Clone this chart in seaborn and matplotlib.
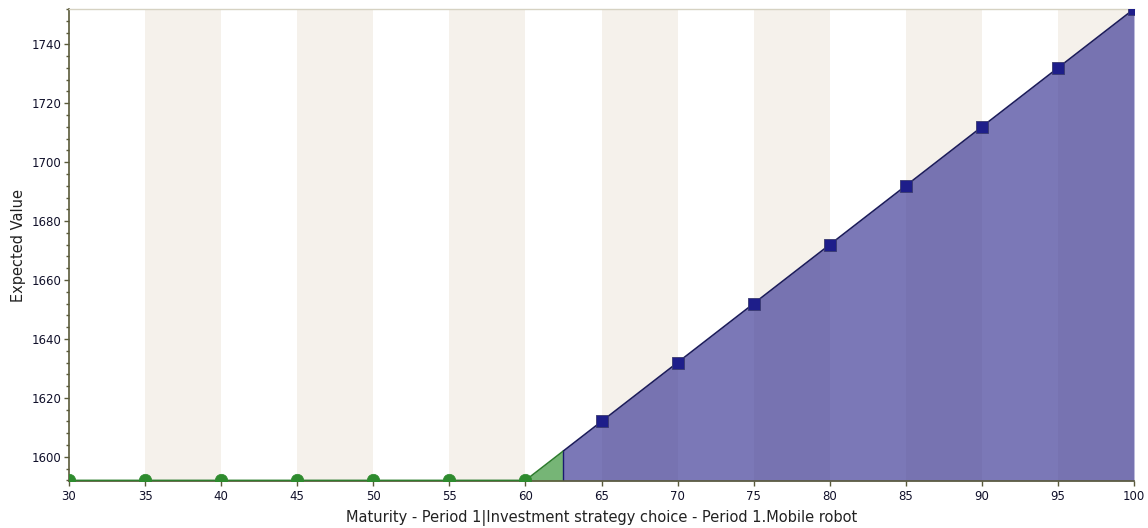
import matplotlib
matplotlib.use("Agg")
import matplotlib.pyplot as plt
import seaborn as sns
import pandas as pd
from matplotlib.ticker import MultipleLocator

# ---- data ----
green_x = [30, 35, 40, 45, 50, 55, 60]
green_y = [1592, 1592, 1592, 1592, 1592, 1592, 1592]
switch_x = 62.5
switch_y = 1602
blue_x = [65, 70, 75, 80, 85, 90, 95, 100]
blue_y = [1612, 1632, 1652, 1672, 1692, 1712, 1732, 1752]
x_ticks = [30, 35, 40, 45, 50, 55, 60, 65, 70, 75, 80, 85, 90, 95, 100]
y_ticks = [1600, 1620, 1640, 1660, 1680, 1700, 1720, 1740]
x_label = "Maturity - Period 1|Investment strategy choice - Period 1.Mobile robot"
y_label = "Expected Value"

sns.set_theme(style="white")
plt.rcParams['font.family'] = ['DejaVu Sans']

green_df = pd.DataFrame({"x": green_x, "y": green_y})
blue_df = pd.DataFrame({"x": blue_x, "y": blue_y})
green_line = pd.DataFrame({"x": green_x + [switch_x], "y": green_y + [switch_y]})
blue_line = pd.DataFrame({"x": [switch_x] + blue_x, "y": [switch_y] + blue_y})

fig = plt.figure(figsize=(11.48, 5.28), dpi=100)
ax = fig.add_axes([69/1148, 1 - 481/528, (1134-69)/1148, (481-9)/528])

ymin, ymax = 1591.8, 1752
ax.set_xlim(30, 100)
ax.set_ylim(ymin, ymax)

# alternating background bands
for i in range(1, len(x_ticks) - 1, 2):
    ax.axvspan(x_ticks[i], x_ticks[i + 1], color="#F5F1EB", lw=0, zorder=0)

# fills
ax.fill_between(green_line["x"], ymin, green_line["y"], color="#5EA85E", alpha=0.85, lw=0, zorder=1)
ax.fill_between(blue_line["x"], ymin, blue_line["y"], color="#3C3896", alpha=0.68, lw=0, zorder=1)
ax.plot([switch_x, switch_x], [ymin, switch_y], color="#1A1A70", lw=1, zorder=2)

# lines
sns.lineplot(data=green_line, x="x", y="y", ax=ax, color="#2E7D2E", lw=1.2, zorder=3)
sns.lineplot(data=blue_line, x="x", y="y", ax=ax, color="#1C1C5C", lw=1.2, zorder=3)

# markers
sns.scatterplot(data=green_df, x="x", y="y", ax=ax, marker="o", s=80, color="#2E8B2E",
                edgecolor="#2E8B2E", linewidth=0.5, zorder=4, clip_on=True)
sns.scatterplot(data=blue_df, x="x", y="y", ax=ax, marker="s", s=75, color="#1E1E8A",
                edgecolor="#3A3A70", linewidth=0.6, zorder=4, clip_on=True)

ax.set_xticks(x_ticks)
ax.set_yticks(y_ticks)
ax.yaxis.set_minor_locator(MultipleLocator(4))
ax.tick_params(axis="both", which="major", labelsize=8.5, labelcolor="#10102A",
               color="#5A5A3A", length=3.5, width=1, pad=2, direction="out")
ax.tick_params(axis="y", which="minor", color="#5A5A3A", length=2.2, width=1, direction="out", left=True)
ax.tick_params(axis="x", which="major", length=3.5, pad=3)
ax.tick_params(axis="both", bottom=True, left=True)

ax.set_xlabel(x_label, fontsize=10.5, color="#222222", labelpad=5)
ax.set_ylabel(y_label, fontsize=10.5, color="#222222", labelpad=4)

for s in ["left", "bottom"]:
    ax.spines[s].set_color("#5A5A3A")
    ax.spines[s].set_linewidth(1.2)
ax.spines["top"].set_color("#D6D2C2")
ax.spines["top"].set_linewidth(1)
ax.spines["right"].set_visible(False)
ax.grid(False)

fig.savefig("out.png", dpi=100)
